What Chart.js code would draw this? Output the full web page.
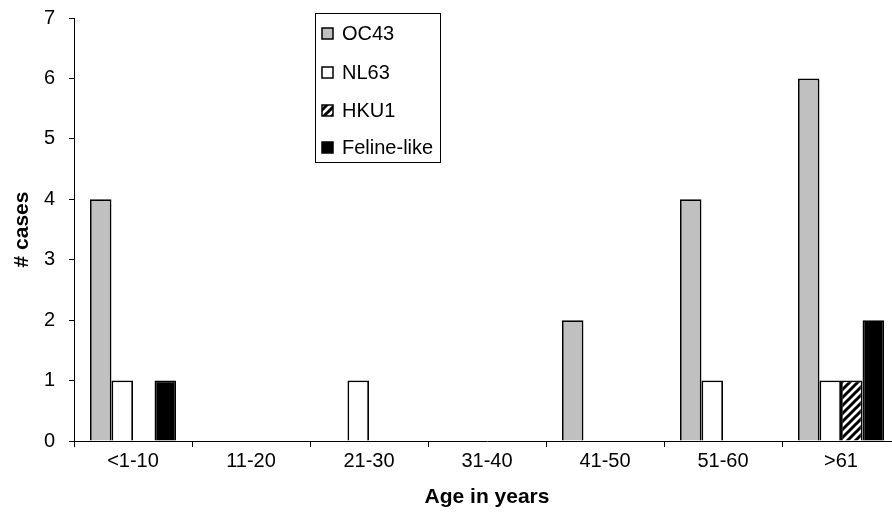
<!DOCTYPE html>
<html>
<head>
<meta charset="utf-8">
<script src="https://cdn.jsdelivr.net/npm/chart.js@4.4.1/dist/chart.umd.min.js"></script>
<style>
  html, body { margin: 0; padding: 0; background: #fff; overflow: hidden; }
  #wrap { width: 902px; height: 527px; }
</style>
</head>
<body>
<div id="wrap"><canvas id="c"></canvas></div>
<script>
const ageGroups = ['<1-10', '11-20', '21-30', '31-40', '41-50', '51-60', '>61'];
const oc43 = [4, 0, 0, 0, 2, 4, 6];
const nl63 = [1, 0, 1, 0, 0, 1, 1];
const hku1 = [0, 0, 0, 0, 0, 0, 1];
const felineLike = [1, 0, 0, 0, 0, 0, 2];
const yTicks = [0, 1, 2, 3, 4, 5, 6, 7];

// diagonal stripes for HKU1
function makeHatch() {
  const c = document.createElement('canvas');
  c.width = 8; c.height = 8;
  const g = c.getContext('2d');
  g.fillStyle = '#fff';
  g.fillRect(0, 0, 8, 8);
  g.strokeStyle = '#000';
  g.lineWidth = 3;
  g.beginPath();
  g.moveTo(-2, 10); g.lineTo(10, -2);
  g.moveTo(-6, 6); g.lineTo(6, -6);
  g.moveTo(2, 14); g.lineTo(14, 2);
  g.stroke();
  return g.createPattern(c, 'repeat');
}
const hatch = makeHatch();

const font = '"Liberation Sans", Arial, sans-serif';

// legend box inside the plot, like the original
const boxLegend = {
  id: 'boxLegend',
  afterDraw(chart) {
    const ctx = chart.ctx;
    const x = 315, y = 13, w = 125, h = 149;
    ctx.save();
    ctx.fillStyle = '#fff';
    ctx.fillRect(x, y, w, h);
    ctx.strokeStyle = '#000';
    ctx.lineWidth = 1;
    ctx.strokeRect(x + 0.5, y + 0.5, w, h);
    ctx.font = '20px ' + font;
    ctx.textBaseline = 'middle';
    const rows = [33, 72, 110, 147];
    chart.data.datasets.forEach((ds, i) => {
      const cy = rows[i];
      ctx.fillStyle = ds.backgroundColor;
      ctx.fillRect(x + 7, cy - 5, 11, 11);
      ctx.strokeStyle = '#000';
      ctx.lineWidth = 1.5;
      ctx.strokeRect(x + 7, cy - 5, 11, 11);
      ctx.fillStyle = '#000';
      ctx.fillText(ds.label, x + 27, cy + 1);
    });
    ctx.restore();
  }
};

new Chart(document.getElementById('c'), {
  type: 'bar',
  data: {
    labels: ageGroups,
    datasets: [
      { label: 'OC43', data: oc43, backgroundColor: '#c0c0c0' },
      { label: 'NL63', data: nl63, backgroundColor: '#ffffff' },
      { label: 'HKU1', data: hku1, backgroundColor: hatch },
      { label: 'Feline-like', data: felineLike, backgroundColor: '#000000' }
    ].map(d => Object.assign(d, {
      borderColor: '#000',
      borderWidth: 1.8,
      borderSkipped: 'bottom',
      categoryPercentage: 0.73,
      barPercentage: 1
    }))
  },
  options: {
    responsive: true,
    maintainAspectRatio: false,
    animation: false,
    layout: { padding: { top: 18, right: 2, left: 0, bottom: 0 } },
    plugins: { legend: { display: false }, tooltip: { enabled: false } },
    scales: {
      x: {
        grid: { offset: true, drawOnChartArea: false, drawTicks: true, tickLength: 6, color: '#000' },
        border: { color: '#000', width: 1 },
        ticks: { color: '#000', font: { family: font, size: 20 }, padding: 2, maxRotation: 0 },
        title: { display: true, text: 'Age in years', color: '#000', font: { family: font, size: 21, weight: 'bold' }, padding: { top: 0, bottom: 17 } },
        afterFit(s) { s.height = 86; s.paddingLeft = 0; s.paddingRight = 0; }
      },
      y: {
        min: 0, max: 7,
        afterBuildTicks(s) { s.ticks = yTicks.map(v => ({ value: v })); },
        grid: { drawOnChartArea: false, drawTicks: true, tickLength: 5, color: '#000' },
        border: { color: '#000', width: 1 },
        ticks: { color: '#000', font: { family: font, size: 20 }, padding: 14 },
        title: { display: true, text: '# cases', color: '#000', font: { family: font, size: 21, weight: 'bold' }, padding: { top: 10, bottom: 0 } },
        afterFit(s) { s.width = 74; s.paddingTop = 0; s.paddingBottom = 0; }
      }
    }
  },
  plugins: [boxLegend]
});
</script>
</body>
</html>
